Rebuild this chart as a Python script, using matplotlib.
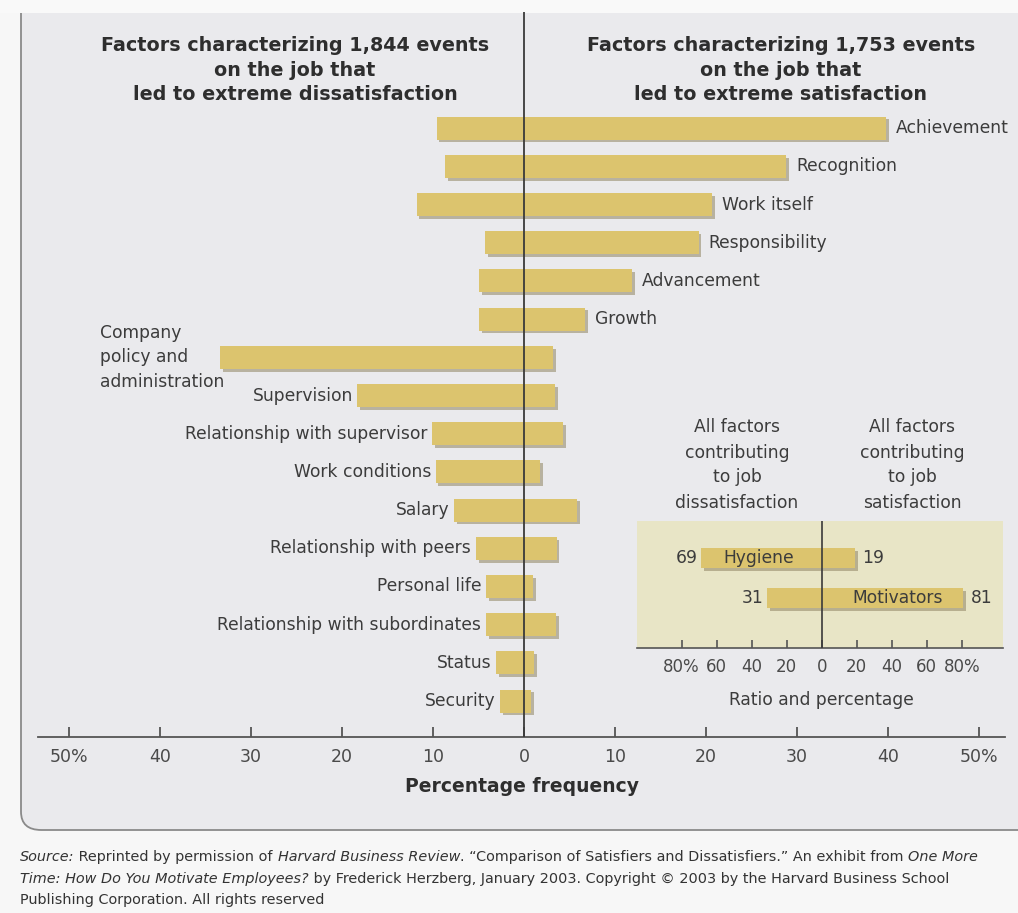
import matplotlib.pyplot as plt
import matplotlib.patheffects as pe
from matplotlib.patches import FancyBboxPatch, Rectangle

plt.rcParams['font.family'] = ['DejaVu Sans']

# Herzberg: share of events (%) naming each factor
factors = ["Achievement", "Recognition", "Work itself", "Responsibility",
           "Advancement", "Growth", "Company\npolicy and\nadministration",
           "Supervision", "Relationship with supervisor", "Work conditions",
           "Salary", "Relationship with peers", "Personal life",
           "Relationship with subordinates", "Status", "Security"]
dissatisfaction = [9.6, 8.7, 11.8, 4.3, 4.9, 4.9, 33.4, 18.3, 10.1, 9.7,
                   7.7, 5.3, 4.2, 4.2, 3.1, 2.6]
satisfaction = [39.8, 28.8, 20.7, 19.2, 11.9, 6.7, 3.2, 3.4, 4.3, 1.8,
                5.8, 3.6, 1.0, 3.5, 1.1, 0.8]
n_motivators = 6  # first rows are labelled on the satisfaction side

# summary inset
summary_groups = ["Hygiene", "Motivators"]
summary_dissat = [69, 31]
summary_sat = [19, 81]
summary_ticks = [-80, -60, -40, -20, 0, 20, 40, 60, 80]
summary_ticklabels = ["80%", "60", "40", "20", "0", "20", "40", "60", "80%"]

main_ticks = [-50, -40, -30, -20, -10, 0, 10, 20, 30, 40, 50]
main_ticklabels = ["50%", "40", "30", "20", "10", "0", "10", "20", "30", "40", "50%"]

BAR = '#dcc46e'
SHADOW = '#8f8462'
TXT = '#3c3c3c'
FS = 12.3
W, H = 1018, 913


def fx(px):
    return px / W


def fy(py):
    return 1 - py / H


fig = plt.figure(figsize=(W / 100, H / 100), dpi=100, facecolor='#f7f7f7')

# rounded panel behind the chart
panel = FancyBboxPatch((fx(21), fy(830)), fx(1060) - fx(21), fy(-40) - fy(830),
                       boxstyle="round,pad=0,rounding_size=0.02",
                       transform=fig.transFigure, facecolor='#eaeaed',
                       edgecolor='#8a8a8a', linewidth=1.3, zorder=-2)
fig.patches.append(panel)
fig.patches.append(Rectangle((0, fy(13)), 1, 1, transform=fig.transFigure,
                             facecolor='#f9f9f9', edgecolor='none', zorder=-1))

shadow = [pe.withSimplePatchShadow(offset=(2, -2), shadow_rgbFace=SHADOW, alpha=0.55)]

# main diverging bar chart
ax = fig.add_axes([fx(38), fy(737), fx(1005) - fx(38), fy(12) - fy(737)])
ax.set_zorder(1)
ax.set_facecolor('none')
rows = list(range(len(factors)))
lefts = [-d for d in dissatisfaction]
widths = [d + s for d, s in zip(dissatisfaction, satisfaction)]
bars = ax.barh(rows, widths, left=lefts, height=0.6, color=BAR, zorder=2)
for b in bars:
    b.set_path_effects(shadow)

ax.set_xlim(-53.4, 52.86)
ax.set_ylim(15.94, -3.04)
ax.axvline(0, color='#3a3a3a', lw=1.3, zorder=3)

for i, name in enumerate(factors):
    if i < n_motivators:
        ax.text(satisfaction[i] + 1.1, i, name, ha='left', va='center',
                fontsize=FS, color=TXT)
    elif '\n' in name:
        ax.text(-46.6, i, name, ha='left', va='center', fontsize=FS,
                color=TXT, linespacing=1.47)
    else:
        ax.text(-dissatisfaction[i] - 0.5, i, name, ha='right', va='center',
                fontsize=FS, color=TXT)

for side in ['top', 'left', 'right']:
    ax.spines[side].set_visible(False)
ax.spines['bottom'].set_color('#555555')
ax.spines['bottom'].set_linewidth(1.3)
ax.set_yticks([])
ax.set_xticks(main_ticks)
ax.set_xticklabels(main_ticklabels)
ax.tick_params(axis='x', direction='in', length=7, width=1.3, color='#555555',
               labelsize=12.5, labelcolor='#4a4a4a', pad=8)

fig.text(fx(522), fy(786), "Percentage frequency", ha='center', va='center',
         fontsize=13.5, fontweight='bold', color='#2e2e2e')

fig.text(fx(295), fy(70), "Factors characterizing 1,844 events\non the job that\nled to extreme dissatisfaction",
         ha='center', va='center', fontsize=13.8, fontweight='bold',
         color='#2e2e2e', linespacing=1.38)
fig.text(fx(781), fy(70), "Factors characterizing 1,753 events\non the job that\nled to extreme satisfaction",
         ha='center', va='center', fontsize=13.8, fontweight='bold',
         color='#2e2e2e', linespacing=1.38)

# inset: hygiene vs motivators
ins = fig.add_axes([fx(637), fy(648), fx(1003) - fx(637), fy(521) - fy(648)])
ins.set_zorder(2)
ins.set_facecolor('#e8e5c6')
srows = [0, 1]
sb = ins.barh(srows, [d + s for d, s in zip(summary_dissat, summary_sat)],
              left=[-d for d in summary_dissat], height=0.5, color=BAR, zorder=2)
for b in sb:
    b.set_path_effects(shadow)
ins.set_xlim(-105.5, 103.6)
ins.set_ylim(2.25, -0.925)
ins.axvline(0, color='#3a3a3a', lw=1.2, zorder=3)
for side in ['top', 'left', 'right']:
    ins.spines[side].set_visible(False)
ins.spines['bottom'].set_color('#555555')
ins.spines['bottom'].set_linewidth(1.2)
ins.set_yticks([])
ins.set_xticks(summary_ticks)
ins.set_xticklabels(summary_ticklabels)
ins.tick_params(axis='x', direction='in', length=6, width=1.2, color='#555555',
                labelsize=12, labelcolor='#4a4a4a', pad=7)

ins.text(-summary_dissat[0] + 13, 0, summary_groups[0], ha='left', va='center',
         fontsize=FS, color=TXT, zorder=4)
ins.text(summary_sat[1] - 12, 1, summary_groups[1], ha='right', va='center',
         fontsize=FS, color=TXT, zorder=4)
for r in srows:
    ins.text(-summary_dissat[r] - 2, r, str(summary_dissat[r]), ha='right',
             va='center', fontsize=FS, color=TXT)
    ins.text(summary_sat[r] + 4, r, str(summary_sat[r]), ha='left',
             va='center', fontsize=FS, color=TXT)

fig.text(fx(737), fy(465), "All factors\ncontributing\nto job\ndissatisfaction",
         ha='center', va='center', fontsize=FS, color=TXT, linespacing=1.5)
fig.text(fx(912), fy(465), "All factors\ncontributing\nto job\nsatisfaction",
         ha='center', va='center', fontsize=FS, color=TXT, linespacing=1.5)
fig.text(fx(821), fy(700), "Ratio and percentage", ha='center', va='center',
         fontsize=FS, color=TXT)

# source note, with italic runs chained one after another
source_lines = [
    [("Source:", 'italic'), (" Reprinted by permission of ", 'normal'),
     ("Harvard Business Review", 'italic'),
     (". \u201cComparison of Satisfiers and Dissatisfiers.\u201d An exhibit from ", 'normal'),
     ("One More", 'italic')],
    [("Time: How Do You Motivate Employees?", 'italic'),
     (" by Frederick Herzberg, January 2003. Copyright \u00a9 2003 by the Harvard Business School", 'normal')],
    [("Publishing Corporation. All rights reserved", 'normal')],
]
for k, parts in enumerate(source_lines):
    prev = None
    for txt, style in parts:
        if prev is None:
            prev = fig.text(fx(20), fy(857 + 21.5 * k), txt, ha='left',
                            va='center', fontsize=10.4, style=style,
                            color='#333333')
        else:
            prev = fig.add_artist(plt.Annotation(
                txt, xy=(1, 0), xycoords=prev, ha='left', va='bottom',
                fontsize=10.4, style=style, color='#333333'))

fig.savefig("out.png", dpi=100, facecolor=fig.get_facecolor())
